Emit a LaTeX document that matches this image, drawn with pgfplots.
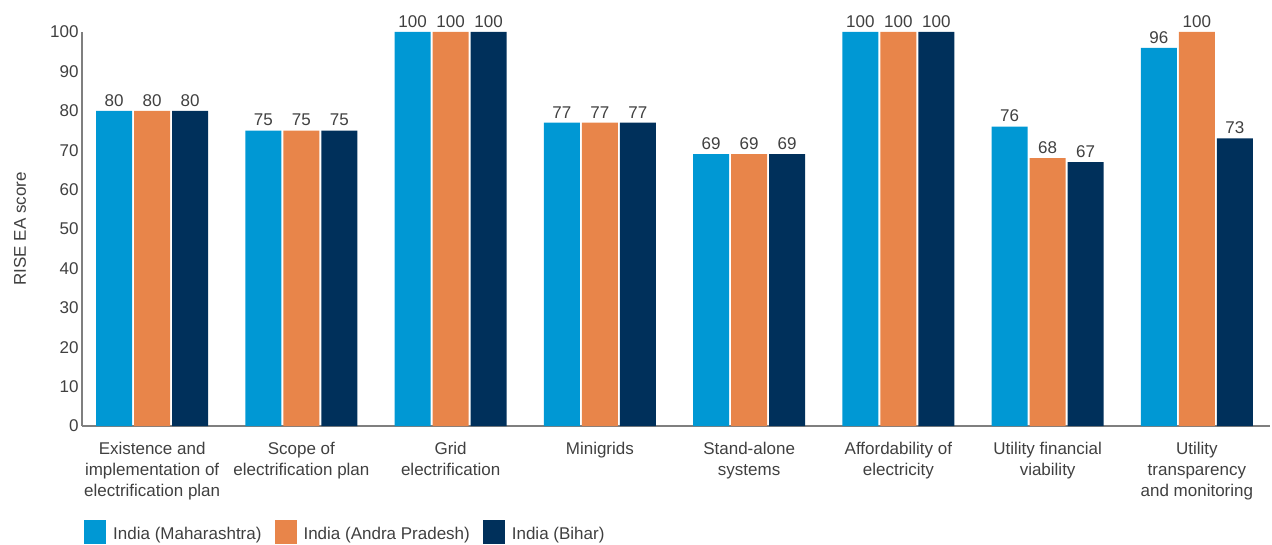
\documentclass[border=0pt]{standalone}
\usepackage{pgfplots}
\pgfplotsset{compat=1.18}
\usepackage{fontspec}
\setmainfont{Liberation Sans}
\definecolor{cblue}{HTML}{0098D4}
\definecolor{corange}{HTML}{E8854A}
\definecolor{cnavy}{HTML}{00305B}
\definecolor{ctext}{HTML}{404040}
\definecolor{caxis}{HTML}{7F7F7F}
\begin{document}
\begin{tikzpicture}
\useasboundingbox (-82pt,-118pt) rectangle (1190pt,426pt);
\begin{axis}[
  at={(0pt,0pt)}, anchor=south west,
  scale only axis, width=1188pt, height=394pt,
  xmin=-0.47, xmax=7.49, ymin=0, ymax=100,
  axis x line*=bottom, axis y line*=left,
  axis line style={draw=caxis, line width=1.5pt},
  ytick={0,10,...,100},
  xtick={0,...,7},
  xticklabels={{Existence and\\implementation of\\electrification plan},
    {Scope of\\electrification plan},
    {Grid\\electrification},
    {Minigrids},
    {Stand-alone\\systems},
    {Affordability of\\electricity},
    {Utility financial\\viability},
    {Utility\\transparency\\and monitoring}},
  major tick length=0pt,
  /pgf/number format/assume math mode=true,
  ticklabel style={font=\fontsize{17}{21}\selectfont, text=ctext},
  xticklabel style={align=center, anchor=north, yshift=-13pt},
  ylabel={RISE EA score},
  ylabel style={at={(axis description cs:-0.0522,0.5)}, anchor=center, font=\fontsize{17}{21}\selectfont, text=ctext},
  ybar=2pt, bar width=36pt,
  clip=false,
  nodes near coords,
  nodes near coords style={font=\fontsize{17}{21}\selectfont, text=ctext, yshift=1pt},
  legend columns=3,
  legend style={at={(0,0)}, anchor=north west, yshift=-94pt, xshift=2pt, draw=none, fill=none,
    inner sep=0pt, font=\fontsize{17}{21}\selectfont, text=ctext,
    /tikz/every odd column/.append style={column sep=5pt},
    /tikz/every even column/.append style={column sep=11pt}},
  legend image code/.code={\fill[#1,draw=none] (0pt,-10pt) rectangle (22pt,14pt);},
]
\addplot[fill=cblue, draw=none] coordinates {(0,80) (1,75) (2,100) (3,77) (4,69) (5,100) (6,76) (7,96)};
\addplot[fill=corange, draw=none] coordinates {(0,80) (1,75) (2,100) (3,77) (4,69) (5,100) (6,68) (7,100)};
\addplot[fill=cnavy, draw=none] coordinates {(0,80) (1,75) (2,100) (3,77) (4,69) (5,100) (6,67) (7,73)};
\legend{India (Maharashtra), India (Andra Pradesh), India (Bihar)}
\end{axis}
\end{tikzpicture}
\end{document}
